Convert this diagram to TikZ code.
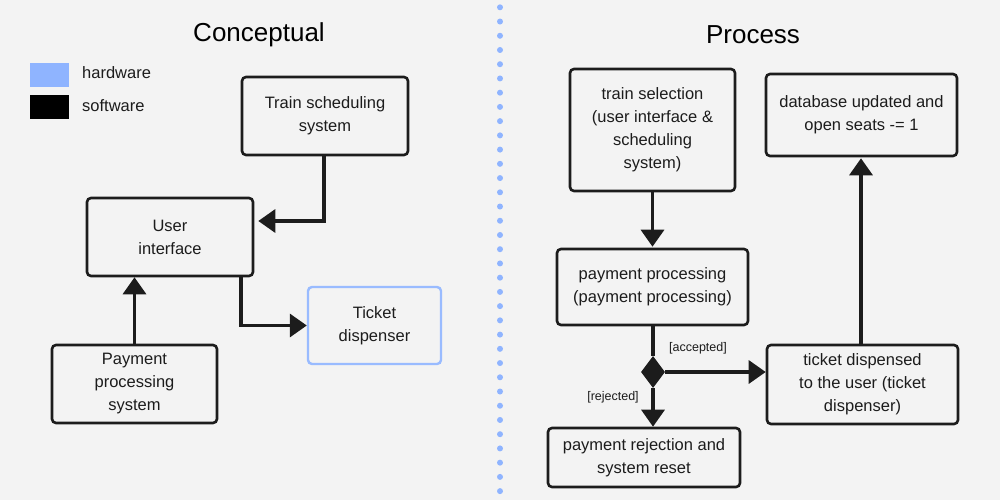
\documentclass[tikz,border=0pt]{standalone}
\usepackage{fontspec}
\setmainfont{Liberation Sans}
\usetikzlibrary{arrows.meta,shapes.geometric}
\definecolor{bg}{HTML}{F3F3F3}
\definecolor{hw}{HTML}{8FB4FF}
\definecolor{hwline}{HTML}{99BBFF}
\definecolor{ink}{HTML}{1C1C1C}
\tikzset{
  x=1pt, y=-1pt,
  box/.style={draw=ink, line width=2.6pt, rounded corners=4pt, align=center,
    inner sep=0pt, font=\fontsize{16.5}{23}\selectfont, text=ink},
  hwbox/.style={box, draw=hwline, line width=2.4pt},
  conn/.style={draw=ink, line width=3.4pt, -{Triangle[length=17pt,width=23pt]}},
  plain/.style={draw=ink, line width=3.4pt},
  lbl/.style={font=\fontsize{12.5}{15}\selectfont, text=ink, inner sep=0pt},
  title/.style={font=\fontsize{26}{30}\selectfont, text=black, inner sep=0pt},
  legtext/.style={font=\fontsize{16.5}{20}\selectfont, text=ink, inner sep=0pt, anchor=west},
}
\begin{document}
\begin{tikzpicture}
\useasboundingbox (0,0) rectangle (1000,500);
\fill[bg] (0,0) rectangle (1000,500);

% divider
\foreach \i in {0,...,34} \fill[hw] (500,{7.3+14.23*\i}) circle[radius=3pt];

% titles
\node[title] (t1) at (259,35) {Conceptual};
\node[title] (t2) at (753,35) {Process};

% legend
\node[fill=hw, minimum width=39pt, minimum height=24pt, inner sep=0pt] (lhw) at (49.5,75) {};
\node[fill=black, minimum width=39pt, minimum height=24pt, inner sep=0pt] (lsw) at (49.5,107) {};
\node[legtext] (lhwt) at (82,73) {hardware};
\node[legtext] (lswt) at (82,106) {software};

% conceptual
\node[box, minimum width=166pt, minimum height=78pt] (ts) at (325,116) {Train scheduling\\system};
\node[box, minimum width=166pt, minimum height=78pt] (ui) at (170,237) {User\\interface};
\node[box, minimum width=165pt, minimum height=78pt] (pp) at (134.5,384) {Payment\\processing\\system};
\node[hwbox, minimum width=133pt, minimum height=77pt] (td) at (374.5,325.5) {Ticket\\dispenser};

\draw[conn, shorten >=4pt] ([xshift=-1pt]ts.south) |- ([yshift=16pt]ui.east);
\draw[conn] (pp.north) -- (pp.north |- ui.south);
\draw[conn] ([xshift=71pt]ui.south) |- (td.west);

% process
\node[box, minimum width=165pt, minimum height=122pt] (sel) at (652.5,130) {train selection\\(user interface \&\\scheduling\\system)};
\node[box, minimum width=191pt, minimum height=82pt] (db) at (861.5,115) {database updated and\\open seats -= 1};
\node[box, minimum width=191pt, minimum height=76pt] (pay) at (652.5,287) {payment processing\\(payment processing)};
\node[box, minimum width=191pt, minimum height=79pt] (tk) at (862.5,384.5) {ticket dispensed\\to the user (ticket\\dispenser)};
\node[box, minimum width=192pt, minimum height=59pt] (rej) at (644,457.5) {payment rejection and\\system reset};
\node[diamond, fill=ink, inner sep=0pt, minimum width=24pt, minimum height=32pt] (dia) at (653,372) {};

\draw[conn, shorten >=1pt] (sel.south) -- (pay.north);
\draw[plain] (pay.south -| dia.north) -- (dia.north);
\draw[conn] (dia.east) -- (dia.east -| tk.west);
\draw[conn] (dia.south) -- (dia.south |- rej.north);
\draw[conn, shorten >=1pt] ([xshift=-1.5pt]tk.north) -- ([xshift=-1.5pt]tk.north |- db.south);

\node[lbl] (acc) at (698,348) {[accepted]};
\node[lbl] (rjl) at (613,397) {[rejected]};
\end{tikzpicture}
\end{document}
